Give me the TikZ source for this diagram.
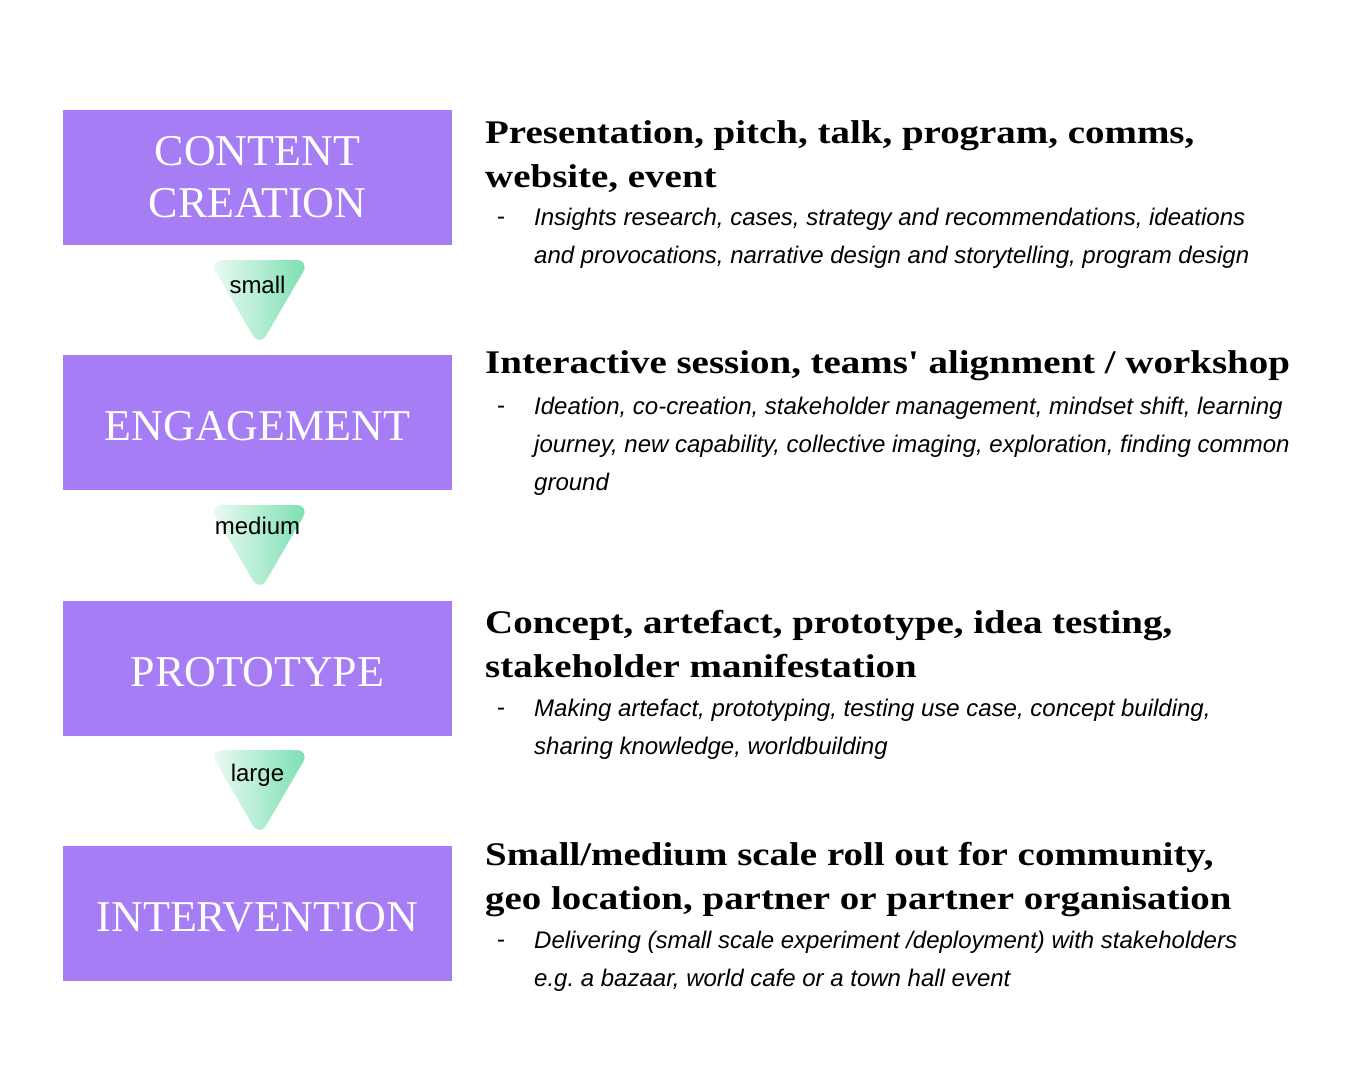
\documentclass[tikz,border=0pt]{standalone}
\usepackage{fontspec}
\setmainfont{Liberation Serif}
\setsansfont{Liberation Sans}
\newfontfamily\headfont[FakeStretch=1.18]{Liberation Serif}
\definecolor{stagefill}{HTML}{A67DF4}
\definecolor{arrowlight}{HTML}{F0FBF6}
\definecolor{arrowdark}{HTML}{76DEAE}
\frenchspacing
\begin{document}
\begin{tikzpicture}[x=1pt,y=-1pt,
    stage/.style={minimum width=389pt,minimum height=135pt,inner sep=0pt,fill=stagefill,text=white,align=center,font=\fontsize{44}{52}\selectfont},
    oneline/.style={text height=35pt,text depth=0pt},
    heading/.style={anchor=north west,inner sep=0pt,align=left,font=\headfont\fontsize{33}{44}\selectfont\bfseries},
    detail/.style={anchor=north west,inner sep=0pt,align=left,font=\fontsize{24}{38}\selectfont\sffamily\itshape},
    bullet/.style={anchor=north west,inner sep=0pt,font=\fontsize{24}{38}\selectfont\sffamily},
    size/.style={inner sep=0pt,font=\fontsize{24}{26}\selectfont\sffamily}]

    \useasboundingbox (0,0) rectangle (1354,1080);

    \node (content) at (257.5,177.5) [stage] {CONTENT\\CREATION};
    \node (engage) at (257.5,422.5) [stage,oneline] {ENGAGEMENT};
    \node (proto) at (257.5,668.5) [stage,oneline] {PROTOTYPE};
    \node (interv) at (257.5,913.5) [stage,oneline] {INTERVENTION};

    \foreach \y/\lbl/\dy [count=\i] in {260/small/25,505/medium/21,750/large/25} {
        \shade[left color=arrowlight,right color=arrowdark,rounded corners=14pt]
            (209,\y) -- (310,\y) -- (259.5,\y+87) -- cycle;
        \node (size\i) at (257.5,\y+\dy) [size] {\lbl};
    }

    \node (head1) at (485,120) [heading] {Presentation, pitch, talk, program, comms,\\website, event};
    \node (dash1) at (497,208) [bullet] {\vphantom{I}-};
    \node (text1) at (534,208) [detail] {Insights research, cases, strategy and recommendations, ideations\\and provocations, narrative design and storytelling, program design};

    \node (head2) at (485,350) [heading] {Interactive session, teams\char39\ alignment / workshop};
    \node (dash2) at (497,397) [bullet] {\vphantom{I}-};
    \node (text2) at (534,397) [detail] {Ideation, co-creation, stakeholder management, mindset shift, learning\\journey, new capability, collective imaging, exploration, finding common\\ground};

    \node (head3) at (485,610) [heading] {Concept, artefact, prototype, idea testing,\\stakeholder manifestation};
    \node (dash3) at (497,699) [bullet] {\vphantom{I}-};
    \node (text3) at (534,699) [detail] {Making artefact, prototyping, testing use case, concept building,\\sharing knowledge, worldbuilding};

    \node (head4) at (485,842) [heading] {Small/medium scale roll out for community,\\geo location, partner or partner organisation};
    \node (dash4) at (497,931) [bullet] {\vphantom{I}-};
    \node (text4) at (534,931) [detail] {Delivering (small scale experiment /deployment) with stakeholders\\e.g. a bazaar, world cafe or a town hall event};
\end{tikzpicture}
\end{document}
